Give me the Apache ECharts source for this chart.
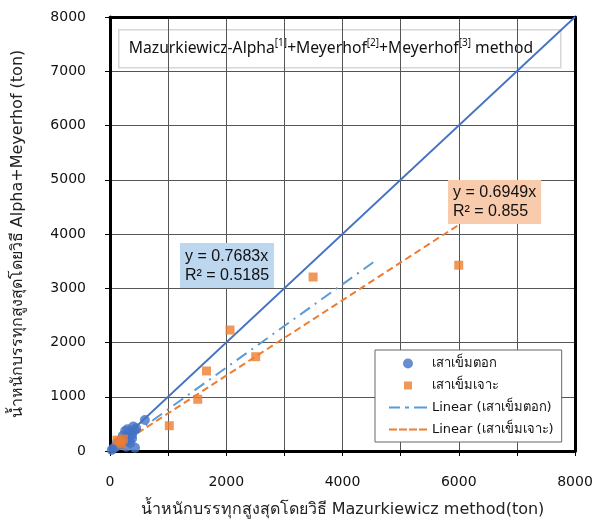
<!DOCTYPE html>
<html>
<head>
<meta charset="utf-8">
<script src="https://cdn.jsdelivr.net/npm/echarts@6/dist/echarts.min.js"></script>
<style>
  html, body { margin: 0; padding: 0; background: #fff; }
  #main { width: 592px; height: 527px; }
</style>
</head>
<body>
<div id="main"></div>
<script>
// driven piles (เสาเข็มตอก): [Mazurkiewicz, Alpha+Meyerhof]
var drivenPiles = [
  [30, 20], [60, 50], [100, 80], [120, 150], [150, 100], [180, 200],
  [200, 120], [220, 280], [250, 180], [260, 370], [300, 250], [300, 400],
  [320, 200], [350, 350], [380, 300], [400, 450], [420, 380], [450, 420],
  [600, 570], [280, 80], [350, 150], [430, 60], [380, 230]
];
// bored piles (เสาเข็มเจาะ)
var boredPiles = [
  [120, 200], [170, 170], [230, 220], [200, 130],
  [1020, 466], [1510, 953], [1660, 1475], [2065, 2230],
  [2507, 1738], [3494, 3207], [6000, 3425]
];
var drivenTrend = [[0, 0], [4600, 3534]];
var boredTrend = [[0, 0], [6000, 4169]];
var equalLine = [[0, 0], [8000, 8000]];

var xName = 'น้ำหนักบรรทุกสูงสุดโดยวิธี Mazurkiewicz method(ton)';
var yName = 'น้ำหนักบรรทุกสูงสุดโดยวิธี Alpha+Meyerhof (ton)';
var legendNames = ['เสาเข็มตอก', 'เสาเข็มเจาะ', 'Linear (เสาเข็มตอก)', 'Linear (เสาเข็มเจาะ)'];

var font = 'DejaVu Sans, Noto Sans, sans-serif';
var gridLine = { show: true, lineStyle: { color: '#555', width: 1 } };

// legend icons (drawn in a 38x10 box)
var icons = [
  'circle',
  'path://M0,0L0,0M38,10L38,10M15,1h8v8h-8z',
  'path://M0,0L0,0M38,10L38,10M0,4h11v2h-11zM16,4h4v2h-4zM25,4h13v2h-13z',
  'path://M0,0L0,0M38,10L38,10M0,4h8v2h-8zM10,4h8v2h-8zM20,4h8v2h-8zM30,4h8v2h-8z'
];

var chart = echarts.init(document.getElementById('main'));
chart.setOption({
  animation: false,
  grid: { left: 110, right: 17, top: 17, bottom: 76, outerBoundsMode: 'none' },
  xAxis: [{
    type: 'value', min: 0, max: 8000, interval: 1000,
    name: xName, nameLocation: 'middle', nameGap: 51,
    nameTextStyle: { fontSize: 16, color: '#222', fontFamily: font },
    axisLine: { show: true, onZero: false, lineStyle: { color: '#000', width: 3 } },
    axisTick: { show: true, inside: false, length: 5, lineStyle: { color: '#000' } },
    axisLabel: {
      fontSize: 14, color: '#111', fontFamily: font, margin: 24,
      formatter: function (v) { return v % 2000 === 0 ? String(v) : ''; }
    },
    splitLine: gridLine
  }, {
    type: 'value', min: 0, max: 8000, position: 'top',
    axisLine: { show: true, onZero: false, lineStyle: { color: '#000', width: 3 } },
    axisTick: { show: false }, axisLabel: { show: false }, splitLine: { show: false }
  }],
  yAxis: [{
    type: 'value', min: 0, max: 8000, interval: 1000,
    name: yName, nameLocation: 'middle', nameGap: 84,
    nameTextStyle: { fontSize: 16, color: '#222', fontFamily: font },
    axisLine: { show: true, onZero: false, lineStyle: { color: '#000', width: 3 } },
    axisTick: { show: true, inside: false, length: 5, lineStyle: { color: '#000' } },
    axisLabel: { fontSize: 14, color: '#111', fontFamily: font, margin: 24,
      formatter: function (v) { return String(v); } },
    splitLine: gridLine
  }, {
    type: 'value', min: 0, max: 8000, position: 'right',
    axisLine: { show: true, onZero: false, lineStyle: { color: '#000', width: 3 } },
    axisTick: { show: false }, axisLabel: { show: false }, splitLine: { show: false }
  }],
  legend: {
    data: legendNames.map(function (n, i) { return { name: n, icon: icons[i] }; }),
    orient: 'vertical', left: 375, top: 350,
    backgroundColor: '#fff', borderColor: '#666', borderWidth: 1,
    padding: [7, 8, 6, 14], itemGap: 9, itemWidth: 38, itemHeight: 10,
    textStyle: { fontSize: 13, color: '#111', fontFamily: font }
  },
  series: [
    {
      type: 'line', data: equalLine, showSymbol: false, silent: true,
      lineStyle: { color: '#4472C4', width: 1.8 }, z: 3
    },
    {
      name: 'เสาเข็มตอก', type: 'scatter', data: drivenPiles,
      symbol: 'circle', symbolSize: 10,
      itemStyle: { color: '#4472C4' }, z: 4
    },
    {
      name: 'เสาเข็มเจาะ', type: 'scatter', data: boredPiles,
      symbol: 'rect', symbolSize: 9,
      itemStyle: { color: '#ED7D31' }, z: 4
    },
    {
      name: 'Linear (เสาเข็มตอก)', type: 'line', data: drivenTrend, showSymbol: false, symbol: 'none',
      itemStyle: { color: '#5B9BD5' },
      lineStyle: { color: '#5B9BD5', width: 2, type: [12, 6, 2, 6] }, z: 3
    },
    {
      name: 'Linear (เสาเข็มเจาะ)', type: 'line', data: boredTrend, showSymbol: false, symbol: 'none',
      itemStyle: { color: '#ED7D31' },
      lineStyle: { color: '#ED7D31', width: 2, type: [7, 4] }, z: 3
    }
  ],
  graphic: [
    {
      type: 'group', left: 118, top: 29, z: 50,
      children: [
        { type: 'rect', shape: { x: 0, y: 0, width: 442, height: 38 },
          style: { fill: '#fff', stroke: '#d6d6d6', lineWidth: 1.5 } },
        { type: 'text', x: 10, y: 19,
          style: {
            text: 'Mazurkiewicz-Alpha{s|[1]}+Meyerhof{s|[2]}+Meyerhof{s|[3]} method',
            font: '15.7px Noto Sans', fill: '#111', verticalAlign: 'middle',
            rich: { s: { fontSize: 10, fontFamily: 'Noto Sans', verticalAlign: 'top', lineHeight: 22, fill: '#111' } }
          } }
      ]
    },
    {
      type: 'text', left: 180, top: 243, z: 50,
      style: {
        text: 'y = 0.7683x\nR² = 0.5185', font: '16px Liberation Sans', fill: '#111',
        backgroundColor: '#BDD7EE', padding: [4, 5, 3, 5], lineHeight: 19
      }
    },
    {
      type: 'text', left: 448, top: 180, z: 50,
      style: {
        text: 'y = 0.6949x\nR² = 0.855', font: '16px Liberation Sans', fill: '#111', align: 'center',
        backgroundColor: '#F8CBAD', padding: [3, 5, 3, 5], lineHeight: 19
      }
    }
  ]
});
</script>
</body>
</html>
